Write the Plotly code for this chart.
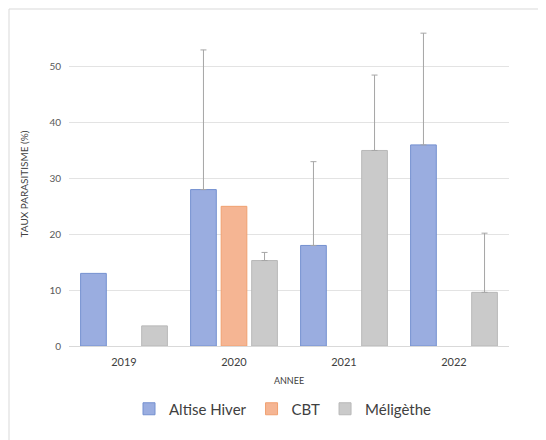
import numpy as np
import plotly.graph_objects as go

years = ["2019", "2020", "2021", "2022"]
altise = [13.0, 28.0, 18.0, 36.0]
altise_err = [None, 25.0, 15.0, 20.0]
cbt = [None, 25.0, None, None]
meligethe = [3.6, 15.3, 35.0, 9.6]
meligethe_err = [None, 1.45, 13.5, 10.6]
y_ticks = [0, 10, 20, 30, 40, 50]

# page body has an 8px margin: figure drawn 8px in from the window edge
OFF = 8
W, H = 546 - OFF, 440 - OFF
ML, MR, MT, MB = 69 - OFF, 37, 22 - OFF, 94
PW, PH = W - ML - MR, H - MT - MB

FONT = "Lato, Open Sans, Liberation Sans, sans-serif"

err_style = dict(type="data", symmetric=False, color="#a6a6a6",
                 thickness=1, width=3, visible=True)


def err_array(vals):
    return np.array([np.nan if v is None else v for v in vals], dtype=float)


fig = go.Figure()
fig.add_trace(go.Bar(
    x=years, y=altise, name="Altise Hiver",
    marker=dict(color="#9aade0", line=dict(color="#7490d0", width=1)),
    error_y=dict(array=err_array(altise_err), **err_style),
))
fig.add_trace(go.Bar(
    x=years, y=cbt, name="CBT",
    marker=dict(color="#f5b593", line=dict(color="#f0a070", width=1)),
))
fig.add_trace(go.Bar(
    x=years, y=meligethe, name="Méligèthe",
    marker=dict(color="#cacaca", line=dict(color="#b8b8b8", width=1)),
    error_y=dict(array=err_array(meligethe_err), **err_style),
))


def px_x(p):
    return (p - OFF - ML) / PW


def px_y(p):
    return (H - MB - (p - OFF)) / PH


fig.add_shape(type="rect", xref="paper", yref="paper",
              x0=px_x(9), x1=px_x(560), y0=px_y(460), y1=px_y(9),
              line=dict(color="#d9d9d9", width=1), fillcolor="rgba(0,0,0,0)", layer="below")

fig.update_layout(
    width=W, height=H,
    margin=dict(l=ML, r=MR, t=MT, b=MB, autoexpand=False),
    paper_bgcolor="white", plot_bgcolor="white",
    barmode="group", bargap=0.167, bargroupgap=0.159,
    font=dict(family=FONT, color="#595959", size=10),
    showlegend=True,
    legend=dict(orientation="h", x=px_x(283), xanchor="center", y=px_y(409), yanchor="middle",
                font=dict(family=FONT, size=15, color="#404040"), itemwidth=30,
                traceorder="normal"),
    xaxis=dict(showgrid=False, showline=False, ticks="", automargin=False,
               ticklabelstandoff=8,
               tickfont=dict(size=11, color="#404040"),
               title=dict(text="ANNEE", font=dict(size=9, color="#404040"), standoff=10)),
    yaxis=dict(range=[0, 58], tickvals=y_ticks, showgrid=True, gridcolor="#e3e3e3",
               gridwidth=1, zeroline=True, zerolinecolor="#d9d9d9", zerolinewidth=1,
               showline=False, ticks="", ticklabelstandoff=7, automargin=False,
               tickfont=dict(size=10, color="#595959"),
               title=dict(text="TAUX PARASITISME (%)", font=dict(size=10, color="#404040"), standoff=18)),
)

fig.write_html("out.html")
